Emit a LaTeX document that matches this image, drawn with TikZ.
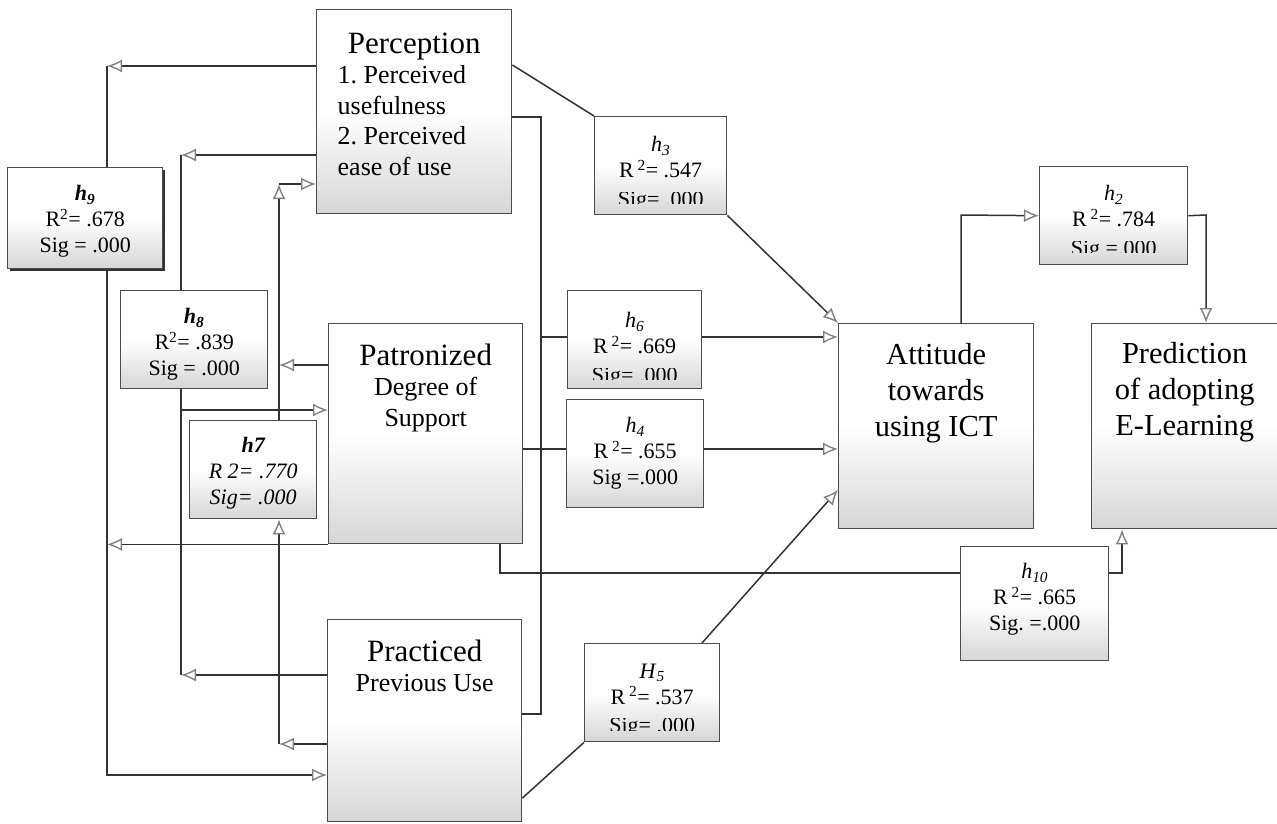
\documentclass[tikz,border=0pt]{standalone}
\usepackage{fontspec}
\setmainfont{Liberation Serif}
\usepackage{trimclip}
\usetikzlibrary{arrows.meta, calc, shadows}
\frenchspacing
\newcommand{\bigf}{\fontsize{31}{31}\selectfont}
\newcommand{\midf}{\fontsize{26}{30.5}\selectfont}
\newcommand{\attf}{\fontsize{30.5}{36}\selectfont}
\newcommand{\statf}{\fontsize{22}{26}\selectfont}
\newcommand{\boxtext}[4]{\parbox[t][#2pt][t]{#1pt}{\vspace*{#3pt}\centering #4}}
\newcommand{\hlab}[1]{\textit{h}\textsubscript{\textit{#1}}}
\newcommand{\sqr}{\textsuperscript{2}}
\newcommand{\cutrow}[1]{\clipbox{0pt 7.5pt 0pt 0pt}{#1}}
\tikzset{
  box/.style={draw=black!70, line width=1.4pt, top color=white, bottom color=black!16, middle color=white, anchor=north west, inner sep=0pt},
  shade9/.style={drop shadow={shadow xshift=2.5pt, shadow yshift=-2.5pt, fill=black!80, opacity=1}},
  link/.style={draw=black!80, line width=1.5pt},
  arr/.style={link, -{Latex[open, length=15pt, width=13pt, color=black!50, line width=1.4pt]}},
}
\begin{document}
\begin{tikzpicture}[x=1pt, y=-1pt]
  \useasboundingbox (0,0) rectangle (1277,823);
  % ---------- main constructs ----------
  \node[box] (perc) at (316,9) {\boxtext{195}{204}{23}{{\bigf Perception\par}\raggedright\leftskip=21pt\midf 1. Perceived\\usefulness\\2. Perceived\\ease of use}};
  \node[box] (patr) at (328,323) {\boxtext{194}{220}{20}{{\bigf Patronized\par}\midf Degree of\\Support}};
  \node[box] (prac) at (327,619) {\boxtext{194}{202}{20}{{\bigf Practiced\par}\midf Previous Use}};
  \node[box] (att) at (838,323) {\boxtext{195}{205}{20}{\attf Attitude\\towards\\using ICT}};
  \node[box] (pred) at (1091,323) {\boxtext{186}{205}{19}{\attf Prediction\\of adopting\\E-Learning}};
  % ---------- hypotheses ----------
  \node[box, shade9] (h9) at (7,167) {\boxtext{155}{101}{18}{\statf\textbf{\hlab{9}}\\R\sqr= .678\\Sig = .000}};
  \node[box] (h8) at (120,290) {\boxtext{147}{98}{18}{\statf\textbf{\hlab{8}}\\R\sqr= .839\\Sig = .000}};
  \node[box] (h7) at (189,420) {\boxtext{127}{98}{17}{\statf\itshape\textbf{h7}\\R 2= .770\\Sig= .000}};
  \node[box] (h3) at (594,116) {\boxtext{132}{98}{20}{\statf\hlab{3}\\R\,\sqr= .547\\\cutrow{Sig= .000}}};
  \node[box] (h6) at (567,290) {\boxtext{134}{98}{22}{\statf\hlab{6}\\R\,\sqr= .669\\\cutrow{Sig= .000}}};
  \node[box] (h4) at (566,399) {\boxtext{137}{108}{18}{\statf\hlab{4}\\R\,\sqr= .655\\Sig =.000}};
  \node[box] (h5) at (584,643) {\boxtext{135}{98}{20}{\statf\textit{H}\textsubscript{\textit{5}}\\R\,\sqr= .537\\\cutrow{Sig= .000}}};
  \node[box] (h2) at (1039,166) {\boxtext{148}{98}{19}{\statf\hlab{2}\\R\,\sqr= .784\\\cutrow{Sig =.000}}};
  \node[box] (h10) at (960,546) {\boxtext{148}{114}{17}{\statf\hlab{10}\\R\,\sqr= .665\\Sig. =.000}};
  % ---------- corners ----------
  \coordinate (c9t) at (107,66);  \coordinate (c9b) at (107,775);
  \coordinate (c8t) at (181,155); \coordinate (c8m) at (181,410); \coordinate (c8b) at (181,675);
  \coordinate (c7t) at (279,184); \coordinate (c7m) at (279,365); \coordinate (c7b) at (279,744);
  \coordinate (v1) at (541,117);  \coordinate (v6) at (541,337);  \coordinate (v2) at (541,714);
  \coordinate (c4) at (566,449);
  \coordinate (c10l) at (500,573); \coordinate (c10r) at (1122,573);
  \coordinate (c2l) at (961,215);  \coordinate (c2r) at (1206,215);
  % h9: perception <-> practiced
  \draw[arr] (perc.west |- c9t) -- (c9t);
  \draw[link] (c9t) -- (c9t |- h9.north);
  \draw[arr] (c9t |- h9.south) -- (c9b) -- (prac.west |- c9b);
  \draw[arr] (patr.south west) -- (c9t |- patr.south west);
  % h8
  \draw[arr] (perc.west |- c8t) -- (c8t);
  \draw[link] (c8t) -- (c8t |- h8.north);
  \draw[link] (c8t |- h8.south) -- (c8b);
  \draw[arr] (prac.west |- c8b) -- (c8b);
  \draw[arr] (c8m) -- (patr.west |- c8m);
  % h7
  \draw[arr] (patr.west |- c7m) -- (c7m);
  \draw[arr] (prac.west |- c7b) -- (c7b);
  \draw[arr] (c7b) -- (c7b |- h7.south);
  \draw[arr] (c7b |- h7.north) -- (c7t);
  \draw[arr] (c7t) -- (perc.west |- c7t);
  % h6 and h4
  \draw[link] (perc.east |- v1) -- (v1) -- (v2) -- (prac.east |- v2);
  \draw[link] (v6) -- (h6.west |- v6);
  \draw[arr] (h6.east |- v6) -- (att.west |- v6);
  \draw[link] (patr.east |- c4) -- (c4);
  \draw[arr] (h4.east |- c4) -- (att.west |- c4);
  % h3 and H5
  \draw[link] ($(perc.north east)+(0,56)$) -- (h3.north west);
  \draw[arr] (h3.south east) -- (att.north west);
  \draw[link] ($(prac.north east)+(0,179)$) -- (h5.south west);
  \draw[arr] ($(h5.north west)+(118,0)$) -- ($(att.north west)+(0,167)$);
  % h10 and h2
  \draw[link] (c10l |- patr.south) -- (c10l) -- (h10.west |- c10l);
  \draw[arr] (h10.east |- c10r) -- (c10r) -- (c10r |- pred.south);
  \draw[arr] (c2l |- att.north) -- (c2l) -- (h2.west);
  \draw[arr] (h2.east) -- (c2r) -- (c2r |- pred.north);
\end{tikzpicture}
\end{document}
